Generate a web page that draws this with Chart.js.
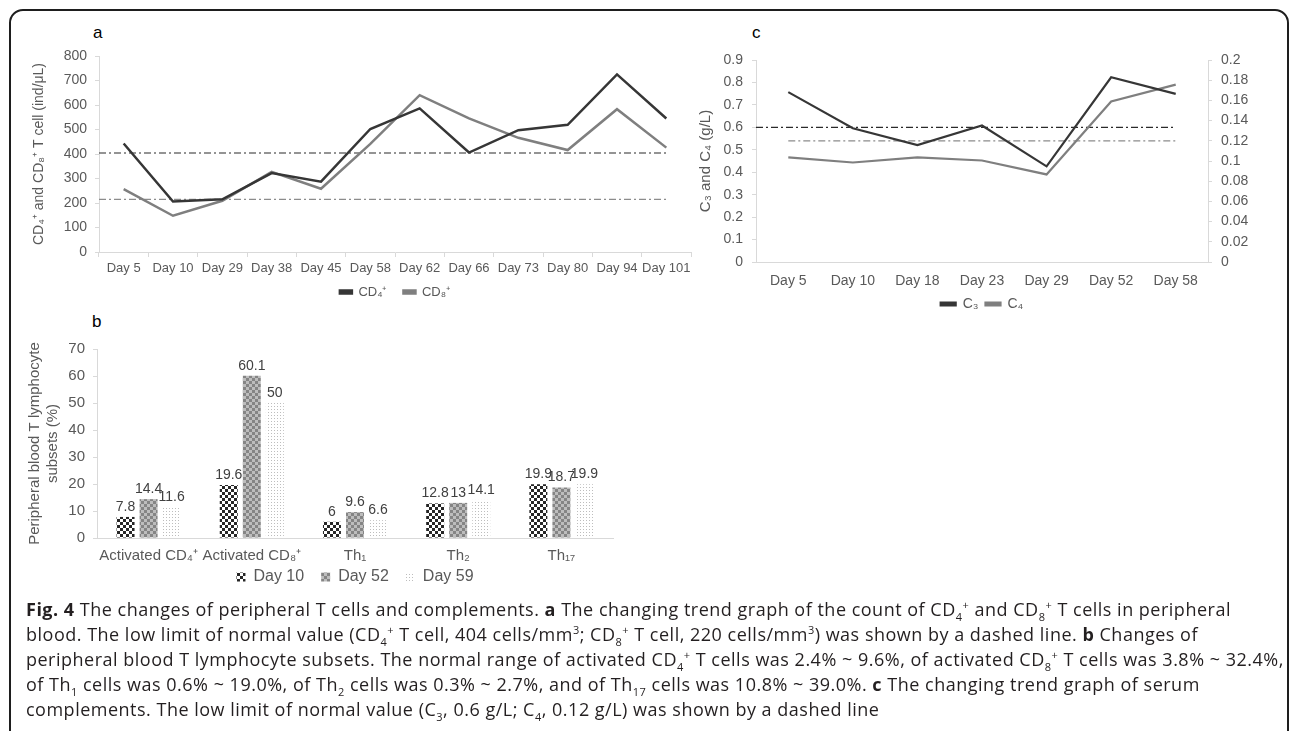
<!DOCTYPE html>
<html lang="en">
<head>
<meta charset="UTF-8">
<title>Fig. 4 Peripheral T cells and complements</title>
<script src="https://cdn.jsdelivr.net/npm/chart.js"></script>
<style>
    body {
        margin: 0;
        width: 1290px;
        height: 731px;
        overflow: hidden;
        background: #fff;
        position: relative;
        font-family: "Liberation Sans", Arial, sans-serif;
    }
    .frame {
        position: absolute;
        left: 9px;
        top: 9px;
        width: 1280px;
        height: 800px;
        border: 2px solid #1e1e1e;
        border-radius: 14px;
        box-sizing: border-box;
    }
    .letter {
        position: absolute;
        font-size: 17px;
        color: #000;
        line-height: 20px;
    }
    canvas { position: absolute; }
    .caption {
        position: absolute;
        left: 26px;
        top: 597px;
        font-family: "Open Sans", sans-serif;
        font-size: 18px;
        letter-spacing: 0.5px;
        line-height: 25px;
        color: #231f20;
    }
    .caption div { white-space: nowrap; }
    .caption sub, .caption sup { font-size: 11px; line-height: 0; }
</style>
</head>
<body>
<div class="frame"></div>
<div class="letter" style="left:93px; top:23px;">a</div>
<div class="letter" style="left:92px; top:312px;">b</div>
<div class="letter" style="left:752px; top:23px;">c</div>

<canvas id="chartA" width="700" height="318" style="left:0; top:0;"></canvas>
<canvas id="chartB" width="640" height="309" style="left:0; top:300px;"></canvas>
<canvas id="chartC" width="600" height="322" style="left:690px; top:0;"></canvas>

<div class="caption">
    <div><b>Fig. 4</b> The changes of peripheral T cells and complements. <b>a</b> The changing trend graph of the count of CD<sub>4</sub><sup>+</sup> and CD<sub>8</sub><sup>+</sup> T cells in peripheral</div>
    <div>blood. The low limit of normal value (CD<sub>4</sub><sup>+</sup> T cell, 404 cells/mm<sup>3</sup>; CD<sub>8</sub><sup>+</sup> T cell, 220 cells/mm<sup>3</sup>) was shown by a dashed line. <b>b</b> Changes of</div>
    <div>peripheral blood T lymphocyte subsets. The normal range of activated CD<sub>4</sub><sup>+</sup> T cells was 2.4% ~ 9.6%, of activated CD<sub>8</sub><sup>+</sup> T cells was 3.8% ~ 32.4%,</div>
    <div>of Th<sub>1</sub> cells was 0.6% ~ 19.0%, of Th<sub>2</sub> cells was 0.3% ~ 2.7%, and of Th<sub>17</sub> cells was 10.8% ~ 39.0%. <b>c</b> The changing trend graph of serum</div>
    <div>complements. The low limit of normal value (C<sub>3</sub>, 0.6 g/L; C<sub>4</sub>, 0.12 g/L) was shown by a dashed line</div>
</div>

<script>
    // panel a - CD4+/CD8+ counts
    const daysA = ['Day 5', 'Day 10', 'Day 29', 'Day 38', 'Day 45', 'Day 58', 'Day 62', 'Day 66', 'Day 73', 'Day 80', 'Day 94', 'Day 101'];
    const cd4 = [443, 206, 215, 322, 287, 502, 586, 406, 497, 519, 725, 545];
    const cd8 = [257, 148, 209, 327, 258, 441, 640, 545, 466, 416, 583, 426];
    const limitsA = [404, 215];

    // panel b - T lymphocyte subsets (%)
    const subsets = ['Activated CD₄⁺', 'Activated CD₈⁺', 'Th₁', 'Th₂', 'Th₁₇'];
    const day10 = [7.8, 19.6, 6, 12.8, 19.9];
    const day52 = [14.4, 60.1, 9.6, 13, 18.7];
    const day59 = [11.6, 50, 6.6, 14.1, 19.9];

    // panel c - complements (g/L)
    const daysC = ['Day 5', 'Day 10', 'Day 18', 'Day 23', 'Day 29', 'Day 52', 'Day 58'];
    const c3 = [0.757, 0.596, 0.521, 0.608, 0.426, 0.823, 0.749];
    const c4 = [0.1035, 0.0985, 0.1035, 0.1005, 0.0867, 0.159, 0.1756];
    const limitsC = [0.6, 0.12];

    Chart.defaults.font.family = '"Liberation Sans", Arial, sans-serif';
    Chart.defaults.color = '#595959';
    Chart.defaults.animation = false;

    const axisGrey = '#d9d9d9';
    const darkLine = '#363636';
    const greyLine = '#7f7f7f';

    // dash-dot reference lines, drawn from the chart's own scales
    const refLines = {
        id: 'refLines',
        beforeDatasetsDraw(chart, args, opts) {
            const { ctx, chartArea, scales } = chart;
            const xs = scales.x;
            const lastX = xs.getPixelForValue(chart.data.labels.length - 1);
            (opts.lines || []).forEach(l => {
                const y = scales[l.axis].getPixelForValue(l.value);
                const x0 = l.fromAxis ? chartArea.left : xs.getPixelForValue(0);
                ctx.save();
                ctx.strokeStyle = l.color;
                ctx.lineWidth = 1.2;
                ctx.setLineDash([7, 3, 2, 3]);
                ctx.beginPath();
                ctx.moveTo(x0, y);
                ctx.lineTo(lastX, y);
                ctx.stroke();
                ctx.restore();
            });
        }
    };

    // pull the legend a bit closer to the axis labels (keeps wide item spacing)
    const legendNudge = {
        id: 'legendNudge',
        afterLayout(chart, args, opts) {
            if (!opts.dy || !chart.legend) return;
            chart.legend.top += opts.dy;
            chart.legend.bottom += opts.dy;
        }
    };

    // value labels above the bars
    const barValues = {
        id: 'barValues',
        afterDatasetsDraw(chart) {
            const ctx = chart.ctx;
            ctx.save();
            ctx.font = '14px "Liberation Sans", Arial, sans-serif';
            ctx.fillStyle = '#404040';
            ctx.textAlign = 'center';
            ctx.textBaseline = 'bottom';
            chart.data.datasets.forEach((ds, i) => {
                chart.getDatasetMeta(i).data.forEach((bar, j) => {
                    ctx.fillText(String(ds.data[j]), bar.x, bar.y - 3);
                });
            });
            ctx.restore();
        }
    };

    function pattern(size, bg, fg, cells) {
        const c = document.createElement('canvas');
        c.width = size;
        c.height = size;
        const g = c.getContext('2d');
        g.fillStyle = bg;
        g.fillRect(0, 0, size, size);
        g.fillStyle = fg;
        cells.forEach(r => g.fillRect(r[0], r[1], r[2], r[3]));
        return g.createPattern(c, 'repeat');
    }

    const fmt = v => String(+v.toFixed(2));

    new Chart(document.getElementById('chartA'), {
        type: 'line',
        data: {
            labels: daysA,
            datasets: [
                { label: 'CD₄⁺', data: cd4, borderColor: darkLine, backgroundColor: darkLine, borderWidth: 2.5, pointRadius: 0, tension: 0 },
                { label: 'CD₈⁺', data: cd8, borderColor: greyLine, backgroundColor: greyLine, borderWidth: 2.5, pointRadius: 0, tension: 0 }
            ]
        },
        options: {
            responsive: false,
            layout: { padding: { top: 56, right: 9, bottom: 1, left: 0 } },
            plugins: {
                legend: {
                    position: 'bottom',
                    fullSize: false,
                    labels: { boxWidth: 12, boxHeight: 3, padding: 17, font: { size: 13 } }
                },
                legendNudge: { dy: -8.5 },
                tooltip: { enabled: false },
                refLines: { lines: [
                    { value: limitsA[0], axis: 'y', color: '#2a2a2a', fromAxis: true },
                    { value: limitsA[1], axis: 'y', color: '#8c8c8c', fromAxis: true }
                ] }
            },
            scales: {
                x: {
                    offset: true,
                    grid: { offset: true, drawOnChartArea: false, tickLength: 5, color: axisGrey },
                    border: { color: axisGrey },
                    ticks: { font: { size: 13 }, padding: 4, maxRotation: 0, autoSkip: false },
                    afterFit: s => { s.height = 25; }
                },
                y: {
                    min: 0, max: 800,
                    grid: { drawOnChartArea: false, tickLength: 4, color: axisGrey },
                    border: { color: axisGrey },
                    ticks: { stepSize: 100, font: { size: 14 }, padding: 8 },
                    title: { display: true, text: 'CD₄⁺ and CD₈⁺ T cell (ind/μL)', font: { size: 14 }, padding: { top: 31 } },
                    afterFit: s => { s.width = 99; }
                }
            }
        },
        plugins: [refLines, legendNudge]
    });

    new Chart(document.getElementById('chartB'), {
        type: 'bar',
        data: {
            labels: subsets,
            datasets: [
                { label: 'Day 10', data: day10, backgroundColor: pattern(6, '#ffffff', '#262626', [[0, 0, 3, 3], [3, 3, 3, 3]]) },
                { label: 'Day 52', data: day52, backgroundColor: pattern(6, '#bdbdbd', '#858585', [[0, 0, 3, 3], [3, 3, 3, 3]]) },
                { label: 'Day 59', data: day59, backgroundColor: pattern(3, '#ffffff', '#bdbdbd', [[1, 1, 1, 1]]) }
            ]
        },
        options: {
            responsive: false,
            categoryPercentage: 0.67,
            barPercentage: 0.78,
            layout: { padding: { top: 49, right: 27, bottom: 1, left: 0 } },
            plugins: {
                legend: {
                    position: 'bottom',
                    fullSize: false,
                    labels: { boxWidth: 9, boxHeight: 9, padding: 17, font: { size: 16 } }
                },
                legendNudge: { dy: -13 },
                tooltip: { enabled: false }
            },
            scales: {
                x: {
                    grid: { display: false, drawTicks: false },
                    border: { color: axisGrey },
                    ticks: { font: { size: 15 }, padding: 9, maxRotation: 0, autoSkip: false },
                    afterFit: s => { s.height = 27; }
                },
                y: {
                    min: 0, max: 70,
                    grid: { drawOnChartArea: false, tickLength: 4, color: axisGrey },
                    border: { color: axisGrey },
                    ticks: { stepSize: 10, font: { size: 15 }, padding: 8 },
                    title: { display: true, text: ['Peripheral blood T lymphocyte', 'subsets (%)'], font: { size: 15 }, padding: { top: 26 } },
                    afterFit: s => { s.width = 97; }
                }
            }
        },
        plugins: [barValues, legendNudge]
    });

    new Chart(document.getElementById('chartC'), {
        type: 'line',
        data: {
            labels: daysC,
            datasets: [
                { label: 'C₃', data: c3, yAxisID: 'y', borderColor: darkLine, backgroundColor: darkLine, borderWidth: 2.2, pointRadius: 0, tension: 0 },
                { label: 'C₄', data: c4, yAxisID: 'y1', borderColor: greyLine, backgroundColor: greyLine, borderWidth: 2.2, pointRadius: 0, tension: 0 }
            ]
        },
        options: {
            responsive: false,
            layout: { padding: { top: 60, right: 0, bottom: 1, left: 0 } },
            plugins: {
                legend: {
                    position: 'bottom',
                    fullSize: false,
                    labels: { boxWidth: 15, boxHeight: 3, padding: 7, font: { size: 14 } }
                },
                tooltip: { enabled: false },
                refLines: { lines: [
                    { value: limitsC[0], axis: 'y', color: '#2a2a2a', fromAxis: true },
                    { value: limitsC[1], axis: 'y1', color: '#8c8c8c', fromAxis: false }
                ] }
            },
            scales: {
                x: {
                    offset: true,
                    grid: { display: false, drawTicks: false },
                    border: { color: axisGrey },
                    ticks: { font: { size: 14 }, padding: 11, maxRotation: 0, autoSkip: false },
                    afterFit: s => { s.height = 28; }
                },
                y: {
                    position: 'left',
                    min: 0, max: 0.9,
                    grid: { drawOnChartArea: false, tickLength: 4, color: axisGrey },
                    border: { color: axisGrey },
                    ticks: { stepSize: 0.1, font: { size: 14 }, padding: 9, callback: fmt },
                    title: { display: true, text: 'C₃ and C₄ (g/L)', font: { size: 15 }, padding: { top: 7 } },
                    afterFit: s => { s.width = 66; }
                },
                y1: {
                    position: 'right',
                    min: 0, max: 0.2,
                    grid: { drawOnChartArea: false, tickLength: 4, color: axisGrey },
                    border: { color: axisGrey },
                    ticks: { stepSize: 0.02, font: { size: 14 }, padding: 9, callback: fmt },
                    afterFit: s => { s.width = 82; }
                }
            }
        },
        plugins: [refLines]
    });
</script>
</body>
</html>
